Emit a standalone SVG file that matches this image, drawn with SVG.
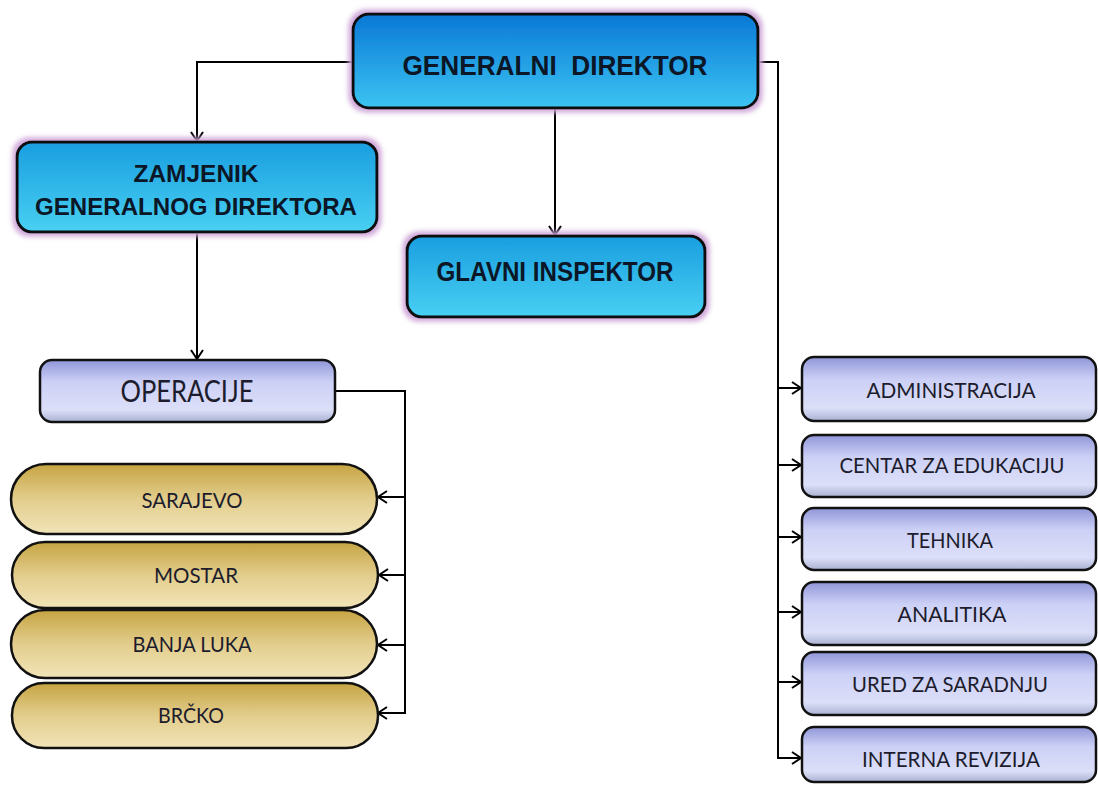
<svg xmlns="http://www.w3.org/2000/svg" width="1098" height="785" viewBox="0 0 1098 785">
<defs>
<style>
.bold{font-family:"Liberation Sans",Arial,sans-serif;font-weight:bold;fill:#0b1626;text-anchor:middle}
.lbl{font-family:Lato,"Open Sans",sans-serif;fill:#1c1c2c;text-anchor:middle}
.blue{stroke:#0a0a10;stroke-width:3}
.lav{fill:url(#gLav);stroke:#111;stroke-width:2.5}
.gold{fill:url(#gGold);stroke:#111;stroke-width:2.5}
.con{fill:none;stroke:#000;stroke-width:2;marker-end:url(#arr)}
.line{fill:none;stroke:#000;stroke-width:2}
</style>
<linearGradient id="gGD" x1="0" y1="0" x2="0" y2="1">
<stop offset="0" stop-color="#0a78d6"/><stop offset="1" stop-color="#3cc4f2"/>
</linearGradient>
<linearGradient id="gZ" x1="0" y1="0" x2="0" y2="1">
<stop offset="0" stop-color="#1a9ee0"/><stop offset="1" stop-color="#48d0f2"/>
</linearGradient>
<linearGradient id="gLav" x1="0" y1="0" x2="0" y2="1">
<stop offset="0" stop-color="#9096d8"/><stop offset="0.35" stop-color="#ccd0f6"/><stop offset="0.8" stop-color="#dcdff8"/><stop offset="1" stop-color="#a9b2d2"/>
</linearGradient>
<linearGradient id="gGold" x1="0" y1="0" x2="0" y2="1">
<stop offset="0" stop-color="#c6a443"/><stop offset="0.5" stop-color="#e2cd8c"/><stop offset="1" stop-color="#f2e4b8"/>
</linearGradient>
<filter id="glow" x="-10%" y="-20%" width="120%" height="140%">
<feMorphology in="SourceAlpha" operator="dilate" radius="3" result="d"/>
<feGaussianBlur in="d" stdDeviation="2.5" result="b"/>
<feFlood flood-color="#cfa6d8"/>
<feComposite in2="b" operator="in" result="g"/>
<feMerge><feMergeNode in="g"/><feMergeNode in="SourceGraphic"/></feMerge>
</filter>
<marker id="arr" markerUnits="userSpaceOnUse" markerWidth="16" markerHeight="16" refX="12" refY="8" orient="auto">
<polyline points="3,2 12,8 3,14" fill="none" stroke="#000" stroke-width="2"/>
</marker>
</defs>
<rect width="1098" height="785" fill="#ffffff"/>

<g id="connectors">
<polyline class="con" points="353,62 197,62 197,141"/>
<line class="con" x1="555" y1="108" x2="555" y2="235"/>
<polyline class="line" points="758,62 778,62 778,758"/>
<line class="con" x1="778" y1="388" x2="801" y2="388"/>
<line class="con" x1="778" y1="465" x2="801" y2="465"/>
<line class="con" x1="778" y1="537" x2="801" y2="537"/>
<line class="con" x1="778" y1="612" x2="801" y2="612"/>
<line class="con" x1="778" y1="682" x2="801" y2="682"/>
<line class="con" x1="777" y1="758" x2="801" y2="758"/>
<line class="con" x1="197" y1="232" x2="197" y2="359"/>
<polyline class="line" points="335,391 405,391 405,713"/>
<line class="con" x1="405" y1="497" x2="378" y2="497"/>
<line class="con" x1="405" y1="575" x2="379" y2="575"/>
<line class="con" x1="405" y1="645" x2="378" y2="645"/>
<line class="con" x1="406" y1="713" x2="378" y2="713"/>
</g>

<g id="generalni-direktor">
<rect class="blue" x="353" y="14" width="405" height="94" rx="16" fill="url(#gGD)" filter="url(#glow)"/>
<text class="bold" x="555" y="75" font-size="28" textLength="305" lengthAdjust="spacingAndGlyphs" xml:space="preserve">GENERALNI  DIREKTOR</text>
</g>

<g id="zamjenik">
<rect class="blue" x="17" y="142" width="360" height="90" rx="15" fill="url(#gZ)" filter="url(#glow)"/>
<text class="bold" x="196" y="182" font-size="24" textLength="125" lengthAdjust="spacingAndGlyphs">ZAMJENIK</text>
<text class="bold" x="196" y="215" font-size="24" textLength="322" lengthAdjust="spacingAndGlyphs">GENERALNOG DIREKTORA</text>
</g>

<g id="glavni-inspektor">
<rect class="blue" x="407" y="236" width="298" height="81" rx="15" fill="url(#gZ)" filter="url(#glow)"/>
<text class="bold" x="555" y="281" font-size="28" textLength="237" lengthAdjust="spacingAndGlyphs">GLAVNI INSPEKTOR</text>
</g>

<g id="operacije">
<rect class="lav" x="40" y="360" width="295" height="62" rx="12"/>
<text class="lbl" x="187" y="402" font-size="30" textLength="133" lengthAdjust="spacingAndGlyphs">OPERACIJE</text>
</g>

<g id="sarajevo">
<rect class="gold" x="11" y="464" width="366" height="70" rx="35"/>
<text class="lbl" x="192" y="508" font-size="21" textLength="101" lengthAdjust="spacingAndGlyphs">SARAJEVO</text>
</g>
<g id="mostar">
<rect class="gold" x="12" y="542" width="366" height="66" rx="33"/>
<text class="lbl" x="196" y="583" font-size="21" textLength="84" lengthAdjust="spacingAndGlyphs">MOSTAR</text>
</g>
<g id="banja-luka">
<rect class="gold" x="11" y="610" width="366" height="68" rx="34"/>
<text class="lbl" x="192" y="652" font-size="21" textLength="119" lengthAdjust="spacingAndGlyphs">BANJA LUKA</text>
</g>
<g id="brcko">
<rect class="gold" x="12" y="683" width="366" height="65" rx="32"/>
<text class="lbl" x="191" y="723" font-size="21" textLength="66" lengthAdjust="spacingAndGlyphs">BRČKO</text>
</g>

<g id="administracija">
<rect class="lav" x="802" y="357" width="294" height="64" rx="12"/>
<text class="lbl" x="951" y="398" font-size="21" textLength="169" lengthAdjust="spacingAndGlyphs">ADMINISTRACIJA</text>
</g>
<g id="centar-za-edukaciju">
<rect class="lav" x="802" y="435" width="294" height="62" rx="12"/>
<text class="lbl" x="952" y="473" font-size="21" textLength="225" lengthAdjust="spacingAndGlyphs">CENTAR ZA EDUKACIJU</text>
</g>
<g id="tehnika">
<rect class="lav" x="802" y="508" width="294" height="62" rx="12"/>
<text class="lbl" x="950" y="548" font-size="21" textLength="86" lengthAdjust="spacingAndGlyphs">TEHNIKA</text>
</g>
<g id="analitika">
<rect class="lav" x="802" y="582" width="294" height="63" rx="12"/>
<text class="lbl" x="952" y="622" font-size="21" textLength="109" lengthAdjust="spacingAndGlyphs">ANALITIKA</text>
</g>
<g id="ured-za-saradnju">
<rect class="lav" x="802" y="652" width="294" height="63" rx="12"/>
<text class="lbl" x="950" y="692" font-size="21" textLength="196" lengthAdjust="spacingAndGlyphs">URED ZA SARADNJU</text>
</g>
<g id="interna-revizija">
<rect class="lav" x="802" y="727" width="294" height="55" rx="12"/>
<text class="lbl" x="951" y="767" font-size="21" textLength="178" lengthAdjust="spacingAndGlyphs">INTERNA REVIZIJA</text>
</g>
</svg>
